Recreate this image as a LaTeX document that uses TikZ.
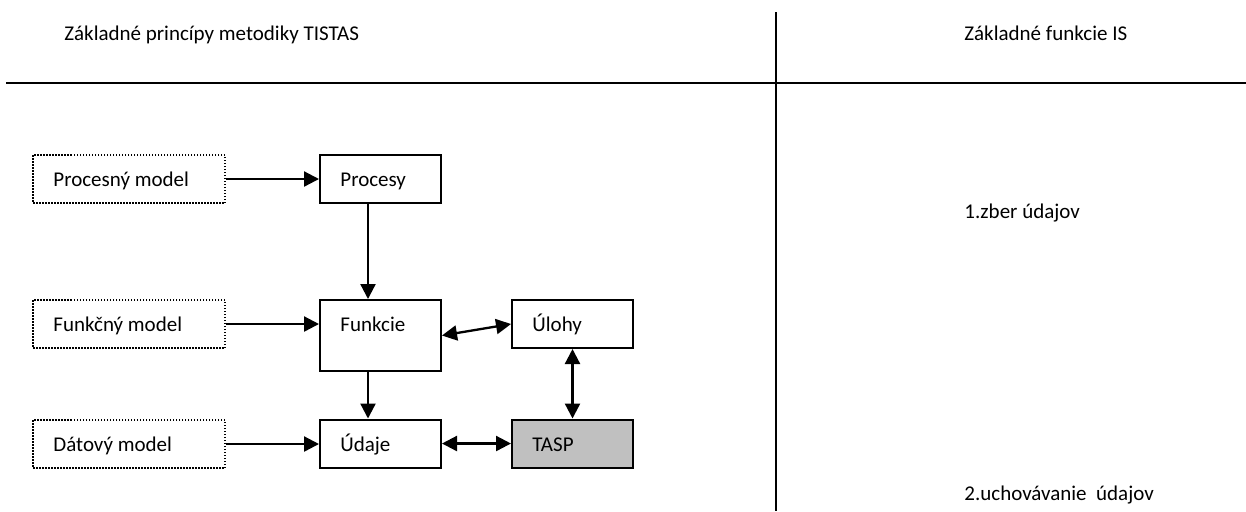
\documentclass[tikz,border=0pt]{standalone}
\usepackage{fontspec}
\setmainfont{Carlito}
\usetikzlibrary{arrows.meta}
\begin{document}
\begin{tikzpicture}[x=0.5pt,y=-0.5pt,
  font=\fontsize{10.5pt}{12pt}\selectfont,
  rule/.style={line width=1.1pt},
  box/.style={draw, line width=1pt, minimum width=60.5pt, minimum height=24pt, inner sep=0pt},
  modelbox/.style={draw, line width=0.75pt, dash pattern=on 0.75pt off 0.75pt, minimum width=96pt, minimum height=24pt, inner sep=0pt},
  txt/.style={anchor=base west, inner sep=0pt},
  conn/.style={line width=1.15pt, -{Triangle[length=7.5pt,width=7.5pt]}},
  biconn/.style={line width=1.15pt, {Triangle[length=7.5pt,width=7.5pt]}-{Triangle[length=7.5pt,width=7.5pt]}}]
\useasboundingbox (0,0) rectangle (1246,511);

% table rules and headings
\draw[rule] (776,12) -- (776,511);
\draw[rule] (6,83) -- (1246,83);
\node[txt] (hl) at (64,40) {Základné princípy metodiky TISTAS};
\node[txt] (hr) at (964,40) {Základné funkcie IS};
\node[txt] (f1) at (964,218) {1.zber údajov};
\node[txt] (f2) at (964,500) {2.uchovávanie\ \ údajov};

% model boxes (dotted)
\node[modelbox] (pm) at (129,179) {};
\node[modelbox] (fm) at (129,324) {};
\node[modelbox] (dm) at (129,444) {};
\node[txt] at (53,186) {Procesný model};
\node[txt] at (53,331) {Funkčný model};
\node[txt] at (53,451) {Dátový model};

% main boxes
\node[box] (proc) at (380.5,179) {};
\node[box, minimum height=35.5pt] (fun) at (380.5,335.5) {};
\node[box] (ul) at (572.5,324) {};
\node[box] (ud) at (380.5,443.5) {};
\node[box, fill={rgb,255:red,192;green,192;blue,192}] (tasp) at (572.5,443.5) {};
\node[txt] at (340,186) {Procesy};
\node[txt] at (340,331) {Funkcie};
\node[txt] at (532,331) {Úlohy};
\node[txt] at (340,451) {Údaje};
\node[txt] at (532,451) {TASP};

% connectors
\draw[conn] (pm.east) -- (proc.west);
\draw[conn] ([xshift=-6.25pt]proc.south) -- ([xshift=-6.25pt]fun.north);
\draw[conn] (fm.east) -- (fm.east -| fun.west);
\draw[biconn] (fun.east) -- (ul.west);
\draw[conn] ([xshift=-6.25pt]fun.south) -- ([xshift=-6.25pt]ud.north);
\draw[biconn] (ul.south) -- (tasp.north);
\draw[conn] (dm.east) -- (dm.east -| ud.west);
\draw[biconn] (ud.east) -- (tasp.west);
\end{tikzpicture}
\end{document}
